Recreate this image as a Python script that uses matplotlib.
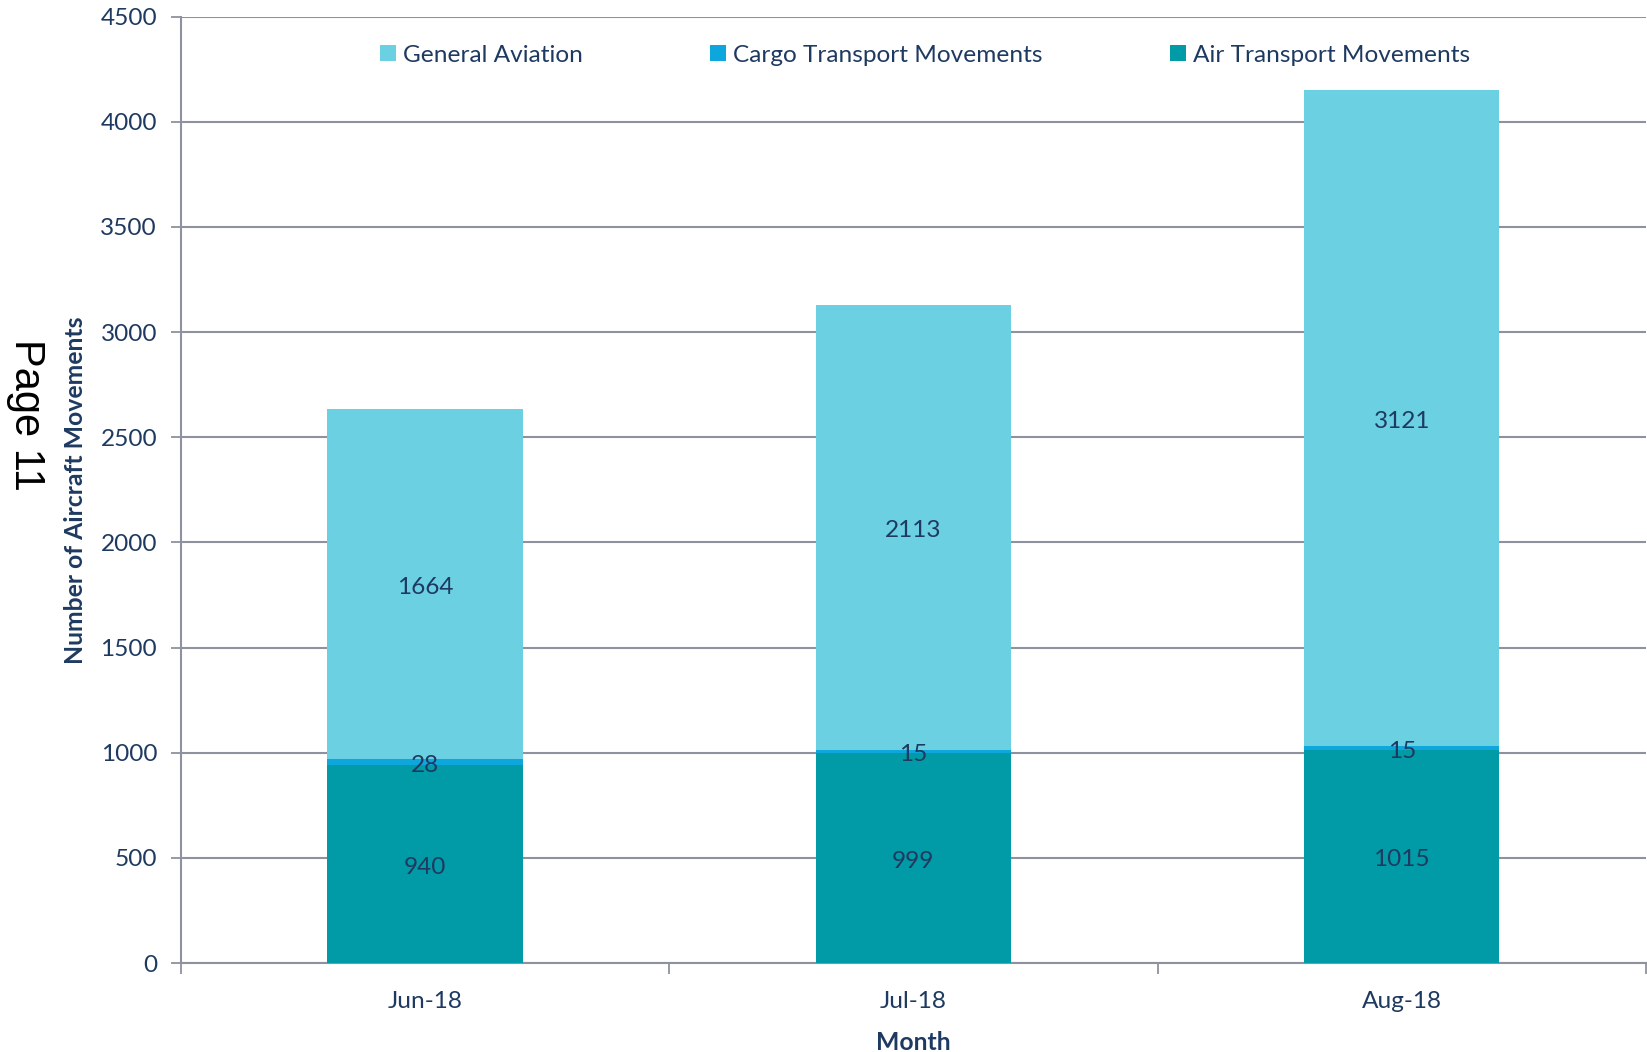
import matplotlib.pyplot as plt
import numpy as np

# --- data ---
months = ["Jun-18", "Jul-18", "Aug-18"]
air_transport = [940, 999, 1015]
cargo_transport = [28, 15, 15]
general_aviation = [1664, 2113, 3121]
y_ticks = [0, 500, 1000, 1500, 2000, 2500, 3000, 3500, 4000, 4500]

c_air = "#009BA6"
c_cargo = "#0EA7DD"
c_ga = "#6BD1E2"
txt = "#1F3A60"
grid_c = "#8E929E"

plt.rcParams['font.family'] = ['Lato', 'DejaVu Sans']
fs = 17.6

fig = plt.figure(figsize=(16.47, 10.52), dpi=100)
ax = fig.add_axes([0.1097, 0.0846, 0.8897, 0.8996])

x = np.arange(len(months))
w = 0.4
air = np.array(air_transport)
cargo = np.array(cargo_transport)
ga = np.array(general_aviation)

b_air = ax.bar(x, air, w, color=c_air, label="Air Transport Movements", zorder=3)
b_cargo = ax.bar(x, cargo, w, bottom=air, color=c_cargo, label="Cargo Transport Movements", zorder=3)
b_ga = ax.bar(x, ga, w, bottom=air + cargo, color=c_ga, label="General Aviation", zorder=3)

# value labels centred in each segment
for vals, bottoms in [(air, 0 * air), (cargo, air), (ga, air + cargo)]:
    for xi, v, b in zip(x, vals, bottoms):
        ax.text(xi, b + v / 2 - 15, str(v), ha='center', va='center', fontsize=fs, color=txt, zorder=4)

ax.set_xlim(-0.5, 2.5)
ax.set_ylim(0, 4500)
ax.set_yticks(y_ticks)
ax.set_xticks(x)
ax.set_xticklabels(months)
ax.set_xticks([-0.5, 0.5, 1.5, 2.5], minor=True)
ax.tick_params(axis='x', which='major', length=0, pad=20, labelsize=fs, labelcolor=txt)
ax.tick_params(axis='x', which='minor', length=8, width=1.3, color=grid_c)
ax.tick_params(axis='y', length=7, width=1.3, color=grid_c, labelsize=fs, labelcolor=txt, pad=10)

ax.yaxis.grid(True, color=grid_c, linewidth=1.5, zorder=0)
ax.set_axisbelow(True)
for s in ['top', 'right']:
    ax.spines[s].set_visible(False)
for s in ['left', 'bottom']:
    ax.spines[s].set_color(grid_c)
    ax.spines[s].set_linewidth(1.5)

ax.set_ylabel("Number of Aircraft Movements", fontsize=17.8, fontweight='bold', color=txt, labelpad=10)
ax.set_xlabel("Month", fontsize=17.8, fontweight='bold', color=txt, labelpad=14)

handles = [b_ga, b_cargo, b_air]
leg = ax.legend(handles, [h.get_label() for h in handles], loc='center', bbox_to_anchor=(0.508, 0.959),
                ncol=3, frameon=False, fontsize=fs, handlelength=0.65, handleheight=0.65,
                handletextpad=0.3, columnspacing=5.2)
for t in leg.get_texts():
    t.set_color(txt)

fig.text(0.0155, 0.606, "Page 11", rotation=-90, ha='center', va='center', fontsize=30,
         family=['Liberation Sans', 'DejaVu Sans'], color='black')

fig.savefig("out.png", dpi=100)
